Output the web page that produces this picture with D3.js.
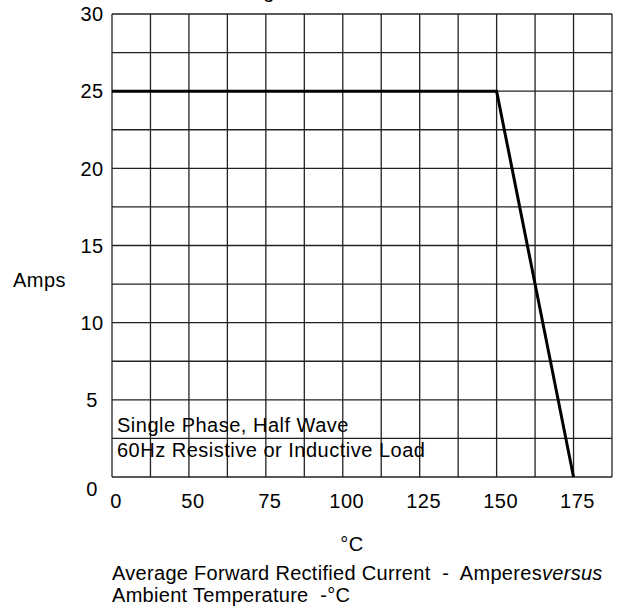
<!DOCTYPE html>
<html>
<head>
<meta charset="utf-8">
<script src="https://cdn.jsdelivr.net/npm/d3@7"></script>
<style>
  body { margin: 0; background: #fff; }
  svg text { font-family: "Liberation Sans", Arial, sans-serif; fill: #000; }
</style>
</head>
<body>
<div id="chart"></div>
<script>
// données de la courbe de déclassement
const tempPoints = [0, 150, 175];
const ampPoints = [25, 25, 0];
const xTickValues = [0, 50, 75, 100, 125, 150, 175];
const xTickLabels = ["0", "50", "75", "100", "125", "150", "175"];
const yTickValues = [0, 5, 10, 15, 20, 25, 30];
const yGridValues = [0, 2.5, 5, 7.5, 10, 12.5, 15, 17.5, 20, 22.5, 25, 27.5, 30];
const xGridValues = [0, 25, 50, 62.5, 75, 87.5, 100, 112.5, 125, 137.5, 150, 162.5, 175, 187.5];
const noteLines = ["Single Phase, Half Wave", "60Hz Resistive or Inductive Load"];

const W = 622, H = 613;
const margin = { top: 14, right: 10, bottom: 136, left: 112 };
const width = W - margin.left - margin.right;
const height = H - margin.top - margin.bottom;
const fontSize = 20;
const spacing = "0.5px";

const svg = d3.select("#chart").append("svg")
  .attr("width", W)
  .attr("height", H);

const g = svg.append("g").attr("transform", `translate(${margin.left},${margin.top})`);

// échelle X par morceaux : le "0" occupe deux colonnes
const x = d3.scaleLinear()
  .domain([0, 50, 187.5])
  .range([0, width * 2 / 13, width]);

const y = d3.scaleLinear()
  .domain([0, 30])
  .range([height, 0]);

// grille
g.append("g").selectAll("line")
  .data(xGridValues)
  .enter().append("line")
  .attr("x1", d => x(d)).attr("x2", d => x(d))
  .attr("y1", 0).attr("y2", height)
  .attr("stroke", "#222").attr("stroke-width", 1.3);

g.append("g").selectAll("line")
  .data(yGridValues)
  .enter().append("line")
  .attr("x1", 0).attr("x2", width)
  .attr("y1", d => y(d)).attr("y2", d => y(d))
  .attr("stroke", "#222").attr("stroke-width", 1.3);

// étiquettes des axes
g.append("g").selectAll("text")
  .data(xTickValues)
  .enter().append("text")
  .attr("x", d => x(d) + 4)
  .attr("y", height + 31)
  .attr("text-anchor", "middle")
  .style("font-size", fontSize + "px")
  .style("letter-spacing", spacing)
  .text((d, i) => xTickLabels[i]);

g.append("g").selectAll("text")
  .data(yTickValues)
  .enter().append("text")
  .attr("x", -20)
  .attr("y", d => y(d))
  .attr("dy", d => d === 0 ? "0.95em" : "0.36em")
  .attr("text-anchor", "middle")
  .style("font-size", fontSize + "px")
  .style("letter-spacing", spacing)
  .text(d => d);

svg.append("text")
  .attr("x", 66)
  .attr("y", 287)
  .attr("text-anchor", "end")
  .style("font-size", fontSize + "px")
  .style("letter-spacing", spacing)
  .text("Amps");

// courbe
const line = d3.line()
  .x(d => x(d[0]))
  .y(d => y(d[1]));

g.append("path")
  .datum(tempPoints.map((t, i) => [t, ampPoints[i]]))
  .attr("d", line)
  .attr("fill", "none")
  .attr("stroke", "#000")
  .attr("stroke-width", 3);

// note dans le graphique
g.append("g").selectAll("text")
  .data(noteLines)
  .enter().append("text")
  .attr("x", 5)
  .attr("y", (d, i) => height - 45 + i * 25)
  .style("font-size", fontSize + "px")
  .style("letter-spacing", spacing)
  .text(d => d);

// titre (coupé en haut)
svg.append("text")
  .attr("x", 36)
  .attr("y", -2)
  .style("font-size", fontSize + "px")
  .style("letter-spacing", spacing)
  .text("Forward Current Derating Curve");

// légende sous le graphique
svg.append("text")
  .attr("x", 352)
  .attr("y", 551)
  .attr("text-anchor", "middle")
  .style("font-size", fontSize + "px")
  .style("letter-spacing", spacing)
  .text("°C");

const cap1 = svg.append("text")
  .attr("x", 112)
  .attr("y", 580)
  .style("font-size", fontSize + "px")
  .style("letter-spacing", "0.3px")
  .style("white-space", "pre");
cap1.append("tspan").text("Average Forward Rectified Current  -  Amperes");
cap1.append("tspan").style("font-style", "italic").text("versus");

svg.append("text")
  .attr("x", 112)
  .attr("y", 602)
  .style("font-size", fontSize + "px")
  .style("letter-spacing", "0.3px")
  .style("white-space", "pre")
  .text("Ambient Temperature  -°C");
</script>
</body>
</html>
